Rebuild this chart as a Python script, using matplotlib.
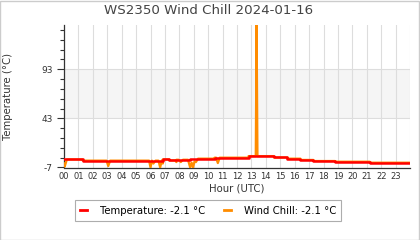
import numpy as np
import matplotlib
matplotlib.use('Agg')
import matplotlib.pyplot as plt
from matplotlib.patches import Rectangle

plt.rcParams['axes.unicode_minus'] = False

# temperature, stepped (hour where each value starts)
temp_hours = [0, 1.3, 6.85, 7.3, 7.8, 8.75, 10.45, 12.8, 14.56, 15.5, 16.4, 17.3, 18.8, 21.2, 24]
temp_vals = [1.2, 0.0, 1.2, 0.2, 0.9, 2.0, 3.0, 4.6, 3.2, 2.0, 0.7, -0.4, -1.1, -2.1, -2.1]

# wind chill, point by point (mostly same as temperature, with dips and one spike)
chill_hours = [0, 0.05, 0.2, 1.3, 1.3, 2.95, 3.07, 3.2, 5.9, 6.0, 6.1, 6.2, 6.35, 6.55, 6.67, 6.78,
               6.85, 6.85, 7.3, 7.3, 7.7, 7.8, 7.8, 7.95, 8.1, 8.25, 8.6, 8.75, 8.85, 8.95, 9.05, 9.15,
               9.3, 10.45, 10.45, 10.55, 10.67, 10.8, 12.8, 12.8, 13.3, 13.36, 13.42, 14.56, 14.56,
               15.5, 15.5, 16.4, 16.4, 17.3, 17.3, 18.8, 18.8, 21.2, 21.2, 24]
chill_vals = [-3.0, -6.0, 1.2, 1.2, 0.0, 0.0, -5.5, 0.0, 0.0, -7.0, 0.0, -3.0, 0.0, 0.0, -7.0, 0.0,
              -3.0, 1.2, 1.2, 0.2, 0.2, -1.5, 0.9, 0.9, -1.5, 0.9, 0.9, -7.0, -2.0, -7.0, -1.0, -1.5,
              2.0, 2.0, 3.0, 3.0, -2.5, 3.0, 3.0, 4.6, 4.6, 138, 4.6, 4.6, 3.2,
              3.2, 2.0, 2.0, 0.7, 0.7, -0.4, -0.4, -1.1, -1.1, -2.1, -2.1]

hour_labels = ['%02d' % h for h in range(24)]
y_ticks = [-7, 43, 93]
current_temp = -2.1
current_chill = -2.1

fig = plt.figure(figsize=(4.2, 2.4), dpi=100)
ax = fig.add_axes([64 / 420, 1 - 167.5 / 240, 346 / 420, 142.5 / 240])

ymin, ymax = -7, 138
ax.set_xlim(0, 24)
ax.set_ylim(ymin, ymax)

# alternating bands
ax.axhspan(43, 93, color='#f5f5f5', zorder=0, lw=0)
for y in y_ticks[1:]:
    ax.axhline(y, color='#dddddd', lw=0.8, zorder=1)
for h in range(25):
    ax.axvline(h, color='#dddddd', lw=0.8, zorder=1)

ax.plot(chill_hours, chill_vals, color='#ff8c00', lw=1.6, zorder=3,
        label='Wind Chill: %.1f °C' % current_chill)
ax.plot(temp_hours, temp_vals, color='#ff0000', lw=1.8, drawstyle='steps-post', zorder=4,
        label='Temperature: %.1f °C' % current_temp)

ax.set_xticks(range(24))
ax.set_xticklabels(hour_labels)
ax.set_yticks(y_ticks)
ax.set_yticks(np.arange(3, ymax, 10), minor=True)
ax.tick_params(axis='x', length=0, pad=3, labelsize=6, colors='#333333')
ax.tick_params(axis='y', which='major', length=5, width=0.8, pad=3, labelsize=6.5, colors='#333333')
ax.tick_params(axis='y', which='minor', length=3, width=0.8, colors='#333333')

for s in ['top', 'right']:
    ax.spines[s].set_visible(False)
for s in ['left', 'bottom']:
    ax.spines[s].set_color('#333333')
    ax.spines[s].set_linewidth(0.9)

ax.set_xlabel('Hour (UTC)', fontsize=7.3, color='#333333', labelpad=2)
ax.set_ylabel('Temperature (°C)', fontsize=7.3, color='#333333')
ax.yaxis.set_label_coords(-(64 - 13) / 346, 0.5)

fig.text(209 / 420, 1 - 11 / 240, 'WS2350 Wind Chill 2024-01-16', ha='center', va='center',
         fontsize=9.6, color='#444444')

handles, labels = ax.get_legend_handles_labels()
leg = fig.legend(handles[::-1], labels[::-1], loc='center', bbox_to_anchor=(208 / 420, 1 - 210.5 / 240),
                 ncol=2, fontsize=7.3, frameon=True, fancybox=False, handlelength=0.7,
                 handletextpad=1.3, columnspacing=1.8, borderpad=0.5)
leg.get_frame().set_edgecolor('#999999')
leg.get_frame().set_linewidth(0.8)
for line in leg.get_lines():
    line.set_linewidth(2)

fig.patches.append(Rectangle((0.001, 0.002), 0.997, 0.995, transform=fig.transFigure,
                             fill=False, edgecolor='#cccccc', lw=1))

fig.savefig('out.png', dpi=100)
